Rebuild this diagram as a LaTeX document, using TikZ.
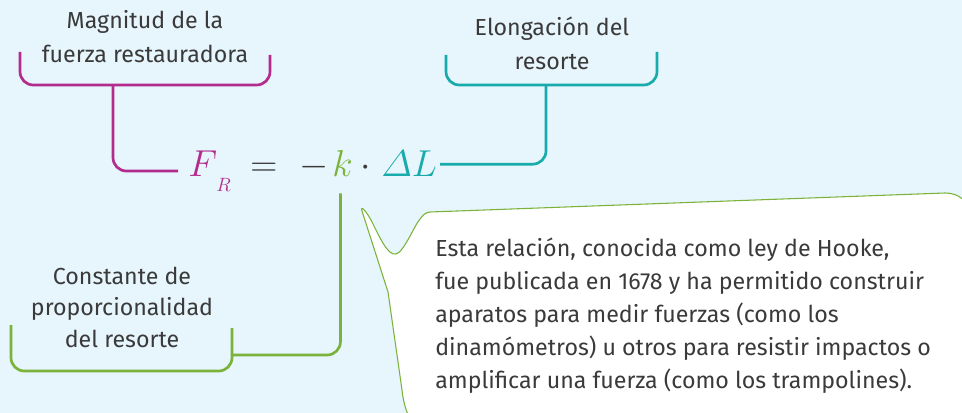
\documentclass[tikz,border=0pt]{standalone}
\usepackage{amsmath}
\usepackage{fontspec}
\setmainfont{Fira Sans}
\usetikzlibrary{calc}

\definecolor{fondo}{HTML}{E7F5FC}
\definecolor{texto}{HTML}{3A3A3A}
\definecolor{colF}{HTML}{B32B8D}
\definecolor{colK}{HTML}{7BB33A}
\definecolor{colL}{HTML}{17ABAB}

\newcommand{\mth}[1]{\scalebox{1.13}{$#1$}}

\begin{document}
\begin{tikzpicture}[x=0.75pt,y=-0.75pt,
  lbl/.style={align=center,text=texto,inner sep=0pt,font=\fontsize{17.4}{25.5}\selectfont},
  eqn/.style={anchor=base west,inner sep=0pt,font=\fontsize{24.88}{30}\selectfont},
  brace/.style={line width=2pt,rounded corners=10pt}]
\useasboundingbox (0,0) rectangle (962,413);
\clip (0,0) rectangle (962,413);
\fill[fondo] (0,0) rectangle (962,413);

\draw[colK,line width=0.8pt,fill=white] (430,212) -- (945,193)
  .. controls (958,193) and (968,200) .. (970,215) -- (970,440) -- (440,440)
  .. controls (420,440) and (405,420) .. (402,390) -- (388,292) -- (362,211)
  .. controls (360,205) and (366,210) .. (372,222)
  .. controls (380,238) and (388,256) .. (396,254)
  .. controls (404,252) and (414,226) .. (420,219)
  .. controls (423,215) and (426,212) .. (430,212);
\node[anchor=north west,align=left,inner sep=0pt,text=texto,
  font=\fontsize{17.4}{24.75}\selectfont] (nota) at (435,237.5)
  {Esta relación, conocida como ley de Hooke,\\
   fue publicada en 1678 y ha permitido construir\\
   aparatos para medir fuerzas (como los\\
   dinamómetros) u otros para resistir impactos o\\
   amplificar una fuerza (como los trampolines).};

\node[eqn,text=colF] (FR) at (188,177) {\mth{F}};
\node[eqn,text=colF,font=\fontsize{15.4}{18}\selectfont] (R) at (216,192) {$R$};
\node[eqn,text=texto] (eq) at (250,177) {\mth{=}};
\node[eqn,text=texto] (mn) at (299,177) {\mth{-}};
\node[eqn,text=colK] (k) at (332,177) {\mth{k}};
\node[eqn,text=texto] (dot) at (360,177) {\mth{\cdot}};
\node[eqn,text=colL] (DL) at (381,177) {\mth{\varDelta L}};

\node[lbl] (lblF) at (145,37) {Magnitud de la\\fuerza restauradora};
\node[lbl] (lblL) at (552,43.5) {Elongación del\\resorte};
\node[lbl,font=\fontsize{17.4}{23.6}\selectfont] (lblK) at (122,307)
  {Constante de\\proporcionalidad\\del resorte};

\coordinate (magB) at (113,85);
\coordinate (tealB) at (546,85);
\coordinate (grnB) at (232,355);

\draw[brace,colF] (20,52) -- (20,85) -- (270,85) -- (270,55);
\draw[brace,colF] (magB) |- ($(FR.base west)+(-10,-6)$);
\draw[brace,colL] (446,55) -- (446,85) -- (657,85) -- (657,52);
\draw[brace,colL] ($(DL.east)+(3,0)$) -| (tealB);
\draw[brace,colK] (11,325) -- (11,371) -- (232,371) -- (232,328);
\draw[brace,colK] ($(k.south)+(-2,16)$) |- (grnB);
\end{tikzpicture}
\end{document}
